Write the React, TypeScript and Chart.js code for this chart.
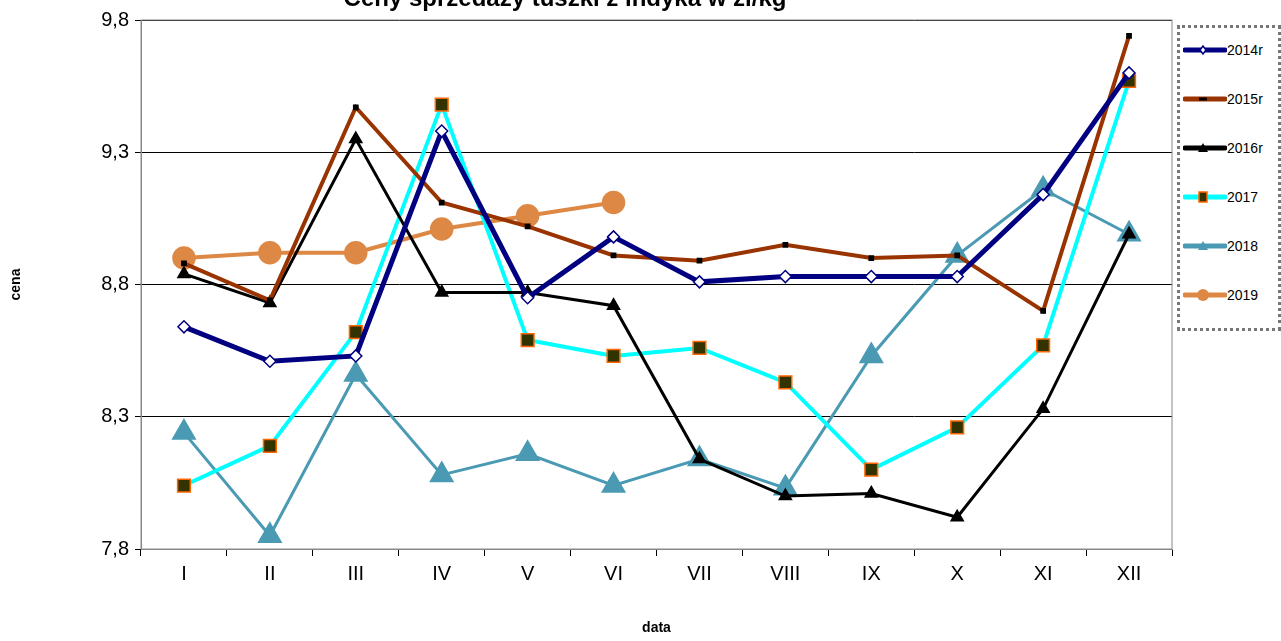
import Chart, { ChartConfiguration } from "chart.js/auto";
import React, { useRef } from "react";

const months = ["I", "II", "III", "IV", "V", "VI", "VII", "VIII", "IX", "X", "XI", "XII"];
const y2014 = [8.64, 8.51, 8.53, 9.38, 8.75, 8.98, 8.81, 8.83, 8.83, 8.83, 9.14, 9.6];
const y2015 = [8.88, 8.74, 9.47, 9.11, 9.02, 8.91, 8.89, 8.95, 8.9, 8.91, 8.7, 9.74];
const y2016 = [8.84, 8.73, 9.35, 8.77, 8.77, 8.72, 8.14, 8.0, 8.01, 7.92, 8.33, 8.99];
const y2017 = [8.04, 8.19, 8.62, 9.48, 8.59, 8.53, 8.56, 8.43, 8.1, 8.26, 8.57, 9.57];
const y2018 = [8.24, 7.85, 8.46, 8.08, 8.16, 8.04, 8.14, 8.03, 8.53, 8.91, 9.16, 8.99];
const y2019 = [8.9, 8.92, 8.92, 9.01, 9.06, 9.11, null, null, null, null, null, null];
const yTicks = ["7,8", "8,3", "8,8", "9,3", "9,8"];

const series = [
  { label: "2014r", data: y2014, color: "#000080", width: 5, style: "rectRot", radius: 6, bg: "#ffffff", border: "#000080" },
  { label: "2015r", data: y2015, color: "#993300", width: 4, style: "rect", radius: 3, bg: "#000000", border: "#000000" },
  { label: "2016r", data: y2016, color: "#000000", width: 3, style: "triangle", radius: 7, bg: "#000000", border: "#000000" },
  { label: "2017", data: y2017, color: "#00ffff", width: 4, style: "rect", radius: 9, bg: "#333300", border: "#ff6600" },
  { label: "2018", data: y2018, color: "#4a9ab3", width: 3, style: "triangle", radius: 13, bg: "#4a9ab3", border: "#4a9ab3" },
  { label: "2019", data: y2019, color: "#dd8844", width: 4, style: "circle", radius: 11, bg: "#dd8844", border: "#dd8844" },
];

const titlePlugin = {
  id: "topTitle",
  afterDraw(chart: any) {
    const ctx = chart.ctx;
    ctx.save();
    ctx.font = "bold 24px Arial, 'Liberation Sans'";
    ctx.fillStyle = "#000";
    ctx.textAlign = "center";
    ctx.textBaseline = "alphabetic";
    ctx.fillText("Ceny sprzedaży tuszki z indyka w zł/kg", 565, 6);
    ctx.restore();
  },
};

const Marker = ({ s }: { s: any }) => {
  const cx = 20, cy = 8;
  let m: any = null;
  if (s.style === "rectRot") m = <polygon points={`${cx},${cy - 4} ${cx + 3},${cy} ${cx},${cy + 4} ${cx - 3},${cy}`} fill="#fff" stroke={s.color} strokeWidth={1.5} />;
  else if (s.style === "rect" && s.radius < 5) m = <rect x={cx - 4} y={cy - 1.5} width={8} height={3} fill="#000" />;
  else if (s.style === "rect") m = <rect x={cx - 4} y={cy - 5} width={8} height={10} fill={s.bg} stroke={s.border} strokeWidth={1.5} />;
  else if (s.style === "triangle") m = <polygon points={`${cx},${cy - 5} ${cx + 5},${cy + 4} ${cx - 5},${cy + 4}`} fill={s.bg} />;
  else m = <circle cx={cx} cy={cy} r={6} fill={s.bg} />;
  return (
    <svg width={44} height={16}>
      <line x1={2} y1={cy} x2={42} y2={cy} stroke={s.color} strokeWidth={5} strokeLinecap="round" />
      {m}
    </svg>
  );
};

const App = () => {
  const canvasEl = useRef<HTMLCanvasElement>(null);
  React.useEffect(() => {
    const ctx = canvasEl.current!.getContext("2d")!;
    const config = {
      type: "line",
      data: {
        labels: months,
        datasets: series.map((s) => ({
          label: s.label,
          data: s.data,
          borderColor: s.color,
          borderWidth: s.width,
          pointStyle: s.style,
          pointRadius: s.radius,
          pointBackgroundColor: s.bg,
          pointBorderColor: s.border,
          pointBorderWidth: 1.5,
          tension: 0,
          spanGaps: false,
        })),
      },
      options: {
        responsive: false,
        animation: false,
        layout: { padding: { top: 20, right: 109, left: 4, bottom: 0 } },
        plugins: { legend: { display: false }, tooltip: { enabled: false } },
        scales: {
          x: {
            offset: true,
            grid: { display: true, drawOnChartArea: false, offset: true, color: "#000", tickLength: 7 },
            border: { color: "#888", width: 1 },
            ticks: { color: "#000", font: { family: "Arial, 'Liberation Sans'", size: 20 }, padding: 6 },
            title: { display: true, text: "data", color: "#000", font: { family: "Arial, 'Liberation Sans'", size: 14, weight: "bold" }, padding: { top: 30 } },
            afterFit: (s: any) => { s.height = 92; },
          },
          y: {
            min: 7.8,
            max: 9.8,
            ticks: { stepSize: 0.5, color: "#000", font: { family: "Arial, 'Liberation Sans'", size: 20 }, padding: 6, callback: (_v: any, i: number) => yTicks[i] },
            grid: { color: "#000", tickLength: 6 },
            border: { color: "#888", width: 1 },
            title: { display: true, text: "cena", color: "#000", font: { family: "Arial, 'Liberation Sans'", size: 14, weight: "bold" }, padding: { bottom: 40 } },
            afterFit: (s: any) => { s.width = 137; },
          },
        },
      },
      plugins: [
        titlePlugin,
        {
          id: "box",
          afterDraw(chart: any) {
            const a = chart.chartArea;
            const c = chart.ctx;
            c.save();
            c.strokeStyle = "#888";
            c.lineWidth = 1;
            c.strokeRect(a.left, a.top, a.right - a.left, a.bottom - a.top);
            c.restore();
          },
        },
      ],
    } as unknown as ChartConfiguration;
    const chart = new Chart(ctx, config);
    return () => chart.destroy();
  }, []);

  return (
    <div style={{ position: "fixed", left: 0, top: 0, width: 1281, height: 641, background: "#fff" }}>
      <canvas ref={canvasEl} width={1281} height={641} style={{ display: "block" }} />
      <div
        style={{
          position: "absolute", left: 1177, top: 25, width: 98, height: 300,
          border: "3px dotted #777", background: "#fff", fontFamily: "Arial, 'Liberation Sans'", fontSize: 14,
        }}
      >
        {series.map((s, i) => (
          <div key={s.label} style={{ position: "absolute", left: 3, top: 14 + i * 49, display: "flex", alignItems: "center" }}>
            <Marker s={s} />
            <span>{s.label}</span>
          </div>
        ))}
      </div>
    </div>
  );
};

export default App;
